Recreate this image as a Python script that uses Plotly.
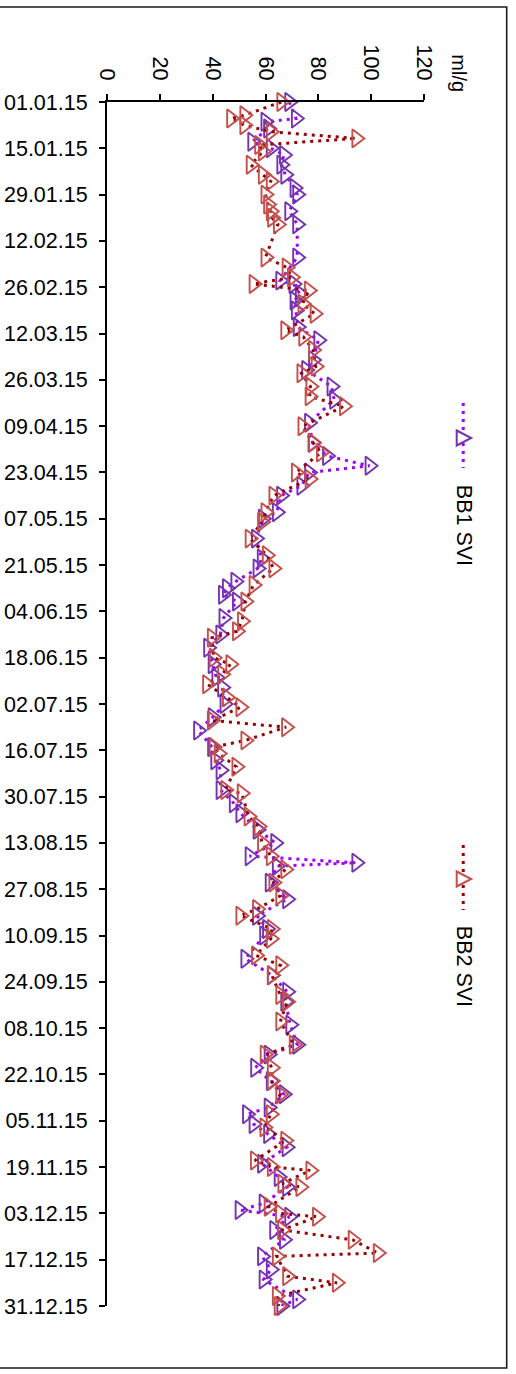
import plotly.graph_objects as go

# ---------------- data ----------------
bb1_dates = [
    "2015-01-01", "2015-01-06", "2015-01-07", "2015-01-09", "2015-01-13", "2015-01-15",
    "2015-01-17", "2015-01-20", "2015-01-23", "2015-01-27", "2015-01-29", "2015-02-03",
    "2015-02-07", "2015-02-17", "2015-02-24", "2015-02-25", "2015-02-28", "2015-03-02",
    "2015-03-05", "2015-03-10", "2015-03-14", "2015-03-20", "2015-03-23", "2015-03-28",
    "2015-04-01", "2015-04-08", "2015-04-14", "2015-04-18", "2015-04-21", "2015-04-23",
    "2015-04-27", "2015-04-30", "2015-05-05", "2015-05-07", "2015-05-13", "2015-05-19",
    "2015-05-22", "2015-05-26", "2015-05-28", "2015-05-30", "2015-06-01", "2015-06-06",
    "2015-06-11", "2015-06-15", "2015-06-20", "2015-06-24", "2015-06-27", "2015-07-02",
    "2015-07-06", "2015-07-10", "2015-07-15", "2015-07-19", "2015-07-22", "2015-07-28",
    "2015-08-01", "2015-08-04", "2015-08-09", "2015-08-13", "2015-08-17", "2015-08-19",
    "2015-08-20", "2015-08-25", "2015-08-30", "2015-09-04", "2015-09-08", "2015-09-10",
    "2015-09-17", "2015-09-22", "2015-09-27", "2015-09-30", "2015-10-07", "2015-10-13",
    "2015-10-16", "2015-10-20", "2015-10-24", "2015-10-28", "2015-11-01", "2015-11-03",
    "2015-11-06", "2015-11-09", "2015-11-13", "2015-11-18", "2015-11-22", "2015-11-25",
    "2015-11-30", "2015-12-02", "2015-12-04", "2015-12-08", "2015-12-11", "2015-12-16",
    "2015-12-20", "2015-12-23", "2015-12-29", "2015-12-31",
]
bb1_values = [
    69, 71.5, 60, 61, 55, 62,
    67, 66, 67.5, 71, 72, 69,
    72, 72, 65.6, 70.6, 73, 71,
    71.5, 72.2, 80, 78, 75.4, 85,
    86, 76.5, 77.8, 83.3, 99.4, 76.5,
    73.6, 65.9, 64.3, 59, 56.4, 58.6,
    57, 48.6, 45.4, 43.9, 49.2, 44.1,
    42.9, 38.3, 40, 41.4, 43.6, 44.5,
    40, 34.5, 39.8, 41, 43, 43,
    48, 50.5, 57, 63.7, 54, 94.4,
    64.3, 61.6, 68.2, 56.8, 60.6, 59.5,
    52.4, 62.4, 68.2, 67.5, 69.4, 72,
    61.2, 56.1, 62, 66.9, 61.2, 53,
    55.5, 61, 68, 58.7, 65, 68.2,
    59.3, 50.2, 69, 63.3, 67, 58.7,
    62, 59.3, 72, 66,
]

bb2_dates = [
    "2015-01-01", "2015-01-05", "2015-01-06", "2015-01-08", "2015-01-10", "2015-01-12",
    "2015-01-14", "2015-01-16", "2015-01-20", "2015-01-23", "2015-01-25", "2015-01-29",
    "2015-02-01", "2015-02-03", "2015-02-05", "2015-02-07", "2015-02-17", "2015-02-20",
    "2015-02-23", "2015-02-25", "2015-02-27", "2015-03-03", "2015-03-06", "2015-03-11",
    "2015-03-13", "2015-03-17", "2015-03-22", "2015-03-24", "2015-03-28", "2015-03-31",
    "2015-04-03", "2015-04-09", "2015-04-14", "2015-04-17", "2015-04-23", "2015-04-25",
    "2015-04-30", "2015-05-05", "2015-05-08", "2015-05-13", "2015-05-18", "2015-05-22",
    "2015-05-27", "2015-06-01", "2015-06-07", "2015-06-10", "2015-06-12", "2015-06-18",
    "2015-06-20", "2015-06-23", "2015-06-26", "2015-06-30", "2015-07-03", "2015-07-07",
    "2015-07-09", "2015-07-13", "2015-07-15", "2015-07-17", "2015-07-21", "2015-07-28",
    "2015-07-29", "2015-08-05", "2015-08-08", "2015-08-13", "2015-08-17", "2015-08-21",
    "2015-08-25", "2015-08-29", "2015-09-02", "2015-09-04", "2015-09-08", "2015-09-11",
    "2015-09-16", "2015-09-19", "2015-09-22", "2015-09-28", "2015-09-30", "2015-10-06",
    "2015-10-13", "2015-10-16", "2015-10-20", "2015-10-24", "2015-10-28", "2015-11-03",
    "2015-11-07", "2015-11-11", "2015-11-17", "2015-11-19", "2015-11-20", "2015-11-24",
    "2015-11-25", "2015-12-01", "2015-12-03", "2015-12-04", "2015-12-08", "2015-12-11",
    "2015-12-15", "2015-12-16", "2015-12-22", "2015-12-24", "2015-12-28", "2015-12-31",
]
bb2_values = [
    66, 52, 47, 52, 62, 94.4,
    57.6, 59, 54.4, 59, 62, 60,
    61, 62, 62.5, 64.7, 60, 68,
    70, 55.5, 76.4, 74, 78.6, 67.5,
    74.3, 78, 79, 73.6, 77, 76.7,
    89.7, 74, 78, 81, 71.5, 76.7,
    63, 60, 58.7, 54, 60.5, 63,
    55.5, 52.4, 51.1, 49.2, 39.7, 40.4,
    46.7, 43.6, 37.9, 45.4, 50.5, 39.7,
    67.8, 52.4, 40.4, 42.3, 49, 44.8,
    51, 53.6, 57.4, 58.7, 62, 67.5,
    63, 65.6, 56.8, 50.5, 62.4, 62,
    56.4, 65.6, 62.4, 65.6, 68.2, 65.6,
    70.7, 59.7, 62.4, 62.4, 65.6, 62,
    59.6, 67.5, 56, 62.4, 77, 66.4,
    73.2, 61.2, 65.5, 79.5, 66.3, 93,
    102.5, 64.3, 68.2, 87, 64.3, 65,
]

series_names = ["BB1 SVI", "BB2 SVI"]
unit_label = "ml/g"
value_range = [0, 120]
value_step = 20
date_start = "2015-01-01"
date_end = "2015-12-31"
tick_step_days = 14

# ---------------- styling ----------------
W, H = 516, 1374
L, R, T, B = 107.3, 424.3, 102, 1306   # plot area in pixels
FONT = "Arial, Liberation Sans, sans-serif"
FS = 21.5

BB1_LINE = "#A000FF"
BB1_MARK = "#7434B0"
BB2_LINE = "#9A0000"
BB2_MARK = "#C4504C"
DASH = "3px,5px"


def pxx(x):
    return (x - L) / (R - L)


def pxy(y):
    return (B - y) / (B - T)


fig = go.Figure()

fig.add_trace(go.Scatter(
    x=bb1_values, y=bb1_dates, name=series_names[0],
    mode="lines+markers", cliponaxis=False, showlegend=False,
    line=dict(color=BB1_LINE, width=3, dash=DASH),
    marker=dict(symbol="triangle-right-open", size=16, color=BB1_MARK,
                line=dict(width=1.9, color=BB1_MARK)),
))
fig.add_trace(go.Scatter(
    x=bb2_values, y=bb2_dates, name=series_names[1],
    mode="lines+markers", cliponaxis=False, showlegend=False,
    line=dict(color=BB2_LINE, width=3, dash=DASH),
    marker=dict(symbol="triangle-right-open", size=16, color=BB2_MARK,
                line=dict(width=1.9, color=BB2_MARK)),
))

shapes = []
# outer frame (left edge sits outside the picture, as in the reference)
shapes.append(dict(type="rect", xref="paper", yref="paper",
                   x0=pxx(-12), x1=pxx(507), y0=pxy(1368), y1=pxy(7),
                   line=dict(color="#1a1a1a", width=1.6), fillcolor="rgba(0,0,0,0)"))

# rotated legend entries
legend_items = [
    (series_names[0], BB1_LINE, BB1_MARK, 403, 468, 438, 525),
    (series_names[1], BB2_LINE, BB2_MARK, 845, 910, 879, 966),
]
annotations = []
for name, lc, mc, ya, yb, ym, yt in legend_items:
    xc = 463.5
    shapes.append(dict(type="line", xref="paper", yref="paper",
                       x0=pxx(xc), x1=pxx(xc), y0=pxy(ya), y1=pxy(yb),
                       line=dict(color=lc, width=3, dash=DASH)))
    path = "M {:.5f},{:.5f} L {:.5f},{:.5f} L {:.5f},{:.5f} Z".format(
        pxx(457), pxy(ym - 7.5), pxx(471.5), pxy(ym), pxx(457), pxy(ym + 7.5))
    shapes.append(dict(type="path", xref="paper", yref="paper", path=path,
                       line=dict(color=mc, width=2), fillcolor="white"))
    annotations.append(dict(text=name, xref="paper", yref="paper",
                            x=pxx(xc + 1), y=pxy(yt), textangle=90, showarrow=False,
                            xanchor="center", yanchor="middle",
                            font=dict(family=FONT, size=FS, color="black")))

annotations.append(dict(text=unit_label, xref="paper", yref="paper",
                        x=pxx(459), y=pxy(73), textangle=90, showarrow=False,
                        xanchor="center", yanchor="middle",
                        font=dict(family=FONT, size=20, color="black")))

fig.update_layout(
    width=W, height=H, autosize=False,
    margin=dict(l=L, r=W - R, t=T, b=H - B, pad=0, autoexpand=False),
    paper_bgcolor="white", plot_bgcolor="white",
    showlegend=False,
    shapes=shapes, annotations=annotations,
    xaxis=dict(
        side="top", range=value_range, dtick=value_step, tick0=0,
        tickangle=90, ticks="outside", ticklen=6, tickwidth=2, tickcolor="black",
        showline=True, linewidth=2, linecolor="black", automargin=False,
        showgrid=False, zeroline=False, ticklabelstandoff=6,
        tickfont=dict(family=FONT, size=FS, color="black"),
    ),
    yaxis=dict(
        type="date", range=[date_end, date_start],
        tick0=date_start, dtick=tick_step_days * 86400000, tickformat="%d.%m.%y",
        ticks="outside", ticklen=6, tickwidth=2, tickcolor="black",
        showline=True, linewidth=2, linecolor="black", automargin=False,
        showgrid=False, zeroline=False, ticklabelstandoff=7,
        tickfont=dict(family=FONT, size=FS, color="black"),
    ),
)

fig.write_html("out.html")
